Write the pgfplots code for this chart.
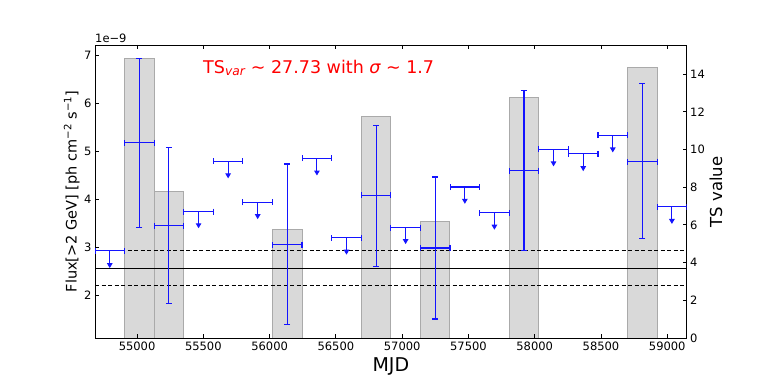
\documentclass[border=0pt]{standalone}
\usepackage{pgfplots}
\pgfplotsset{compat=1.18}
\usepackage{pgfplotstable}
\usetikzlibrary{arrows.meta}
\usepackage{fontspec}
\setmainfont{DejaVu Sans}

% flux in units of 1e-9 ph cm^-2 s^-1, bins of 223.2 d
\pgfplotstableread{
x     y    ex     eyp  eym
55017 5.17 111.6 1.75 1.77
55240 3.44 111.6 1.64 1.62
56133 3.05 111.6 1.68 1.67
56803 4.08 111.6 1.46 1.48
57249 2.98 111.6 1.48 1.48
57919 4.59 111.6 1.67 1.67
58812 4.78 111.6 1.62 1.61
}\detect

% upper limits: cap value and arrow length
\pgfplotstableread{
x     y    ex    len
54794 2.92 111.6 0.36
55464 3.74 111.6 0.35
55687 4.79 111.6 0.36
55910 3.93 111.6 0.35
56357 4.85 111.6 0.36
56580 3.19 111.6 0.35
57026 3.40 111.6 0.34
57473 4.25 111.6 0.35
57696 3.71 111.6 0.35
58142 5.04 111.6 0.36
58366 4.94 111.6 0.36
58589 5.33 111.6 0.36
59035 3.84 111.6 0.36
}\uplim

% TS of the detected bins
\pgfplotstableread{
x     ts
55017 14.80
55240 7.75
56133 5.73
56803 11.74
57249 6.20
57919 12.74
58812 14.34
}\tsbins

\definecolor{barfill}{RGB}{217,217,217}
\definecolor{baredge}{RGB}{170,170,170}
\definecolor{ebar}{RGB}{20,20,255}

\begin{document}
\begin{tikzpicture}
\useasboundingbox (0,0) rectangle (763pt,381pt);
\pgfplotsset{
  common/.style={
    scale only axis, width=591.7pt, height=293pt,
    at={(95pt,43pt)}, anchor=south west,
    xmin=54682.65, xmax=59146.65,
    tick align=inside, major tick length=4pt,
    tick style={black, line width=0.8pt},
    axis line style={line width=0.9pt},
    tick label style={font=\fontsize{11.5}{13}\selectfont},
    /pgf/number format/assume math mode=true,
  },
  errs/.style={
    draw=none, mark=none,
    error bars/error bar style={draw=ebar, line width=1.1pt, solid},
    error bars/error mark options={draw=ebar, line width=1.1pt, mark size=3pt, rotate=90},
  },
}
\begin{axis}[common,
  axis y line*=right, axis x line=none,
  ymin=0, ymax=15.54, ytick={0,2,...,14},
  ylabel={TS value},
  ylabel style={font=\fontsize{16.5}{18}\selectfont, at={(axis description cs:1.0495,0.498)}, anchor=center},
]
\addplot[ybar, bar width=223.2, bar shift=0pt, fill=barfill, draw=baredge, line width=1pt]
  table[x=x, y=ts] {\tsbins};
\end{axis}

\begin{axis}[common,
  ymin=1.104, ymax=7.21, ytick={2,...,7}, ytick pos=left,
  xtick={55000,55500,...,59000}, scaled x ticks=false,
  xticklabel style={/pgf/number format/set thousands separator={}},
  xlabel={MJD},
  xlabel style={font=\fontsize{19}{20}\selectfont, at={(axis description cs:0.5,-0.0956)}, anchor=center},
  ylabel={Flux[>2 GeV] [ph cm\textsuperscript{−2} s\textsuperscript{−1}]},
  ylabel style={font=\fontsize{14.5}{16}\selectfont, at={(axis description cs:-0.0394,0.5)}, anchor=center},
]
\addplot[black, line width=1pt] coordinates {(54682.65,2.56) (59146.65,2.56)};
\addplot[black, line width=1pt, dash pattern=on 4pt off 2.5pt] coordinates {(54682.65,2.92) (59146.65,2.92)};
\addplot[black, line width=1pt, dash pattern=on 4pt off 2.5pt] coordinates {(54682.65,2.19) (59146.65,2.19)};

% detections
\addplot[errs, error bars/.cd, x dir=both, x explicit, y dir=both, y explicit]
  table[x=x, y=y, x error=ex, y error plus=eyp, y error minus=eym] {\detect};

% upper limits: horizontal bar
\addplot[errs, error bars/.cd, x dir=both, x explicit]
  table[x=x, y=y, x error=ex] {\uplim};
% upper limits: arrow
\addplot[ebar, line width=1.1pt, -{Triangle[length=5pt, width=5.5pt]},
  quiver={u=0, v=-\thisrow{len}}]
  table[x=x, y=y] {\uplim};
\end{axis}

\node[anchor=south west, inner sep=0pt, font=\fontsize{11.5}{13}\selectfont]
  at (95pt,338pt) {1e−9};
\node[anchor=west, inner sep=0pt, text=red, font=\fontsize{17.5}{20}\selectfont]
  at (203pt,313pt) {TS\textsubscript{\itshape var} ∼ 27.73 with {\itshape σ} ∼ 1.7};
\end{tikzpicture}
\end{document}
